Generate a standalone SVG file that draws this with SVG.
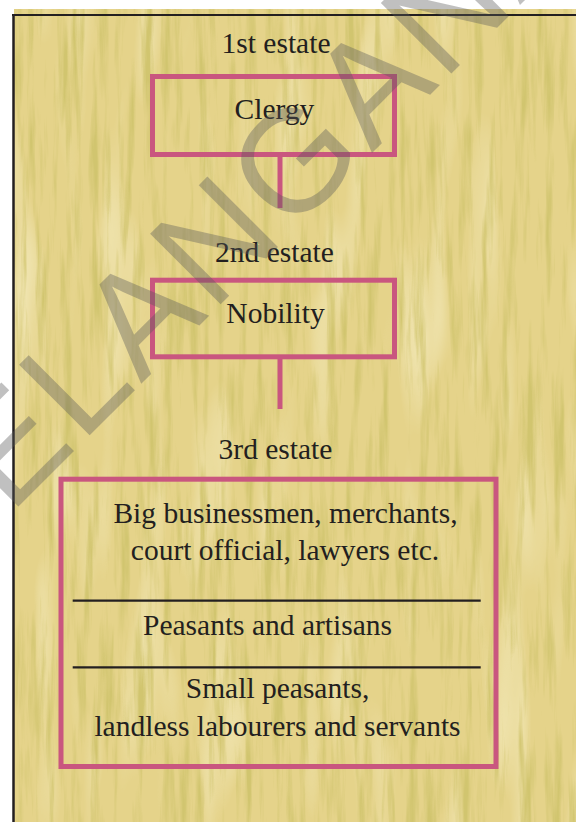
<svg xmlns="http://www.w3.org/2000/svg" width="576" height="822" viewBox="0 0 576 822">
  <defs>
    <filter id="paper" x="0" y="0" width="100%" height="100%" filterUnits="objectBoundingBox">
      <feTurbulence type="fractalNoise" baseFrequency="0.11 0.008" numOctaves="4" seed="7" result="n"/>
      <feColorMatrix in="n" type="matrix" values="0 0 0 0 0.64  0 0 0 0 0.56  0 0 0 0 0.16  3.2 0 0 0 -1.52"/>
    </filter>
    <filter id="paperLight" x="0" y="0" width="100%" height="100%" filterUnits="objectBoundingBox">
      <feTurbulence type="fractalNoise" baseFrequency="0.03 0.005" numOctaves="2" seed="3" result="n"/>
      <feColorMatrix in="n" type="matrix" values="0 0 0 0 0.95  0 0 0 0 0.90  0 0 0 0 0.64  1.6 0 0 0 -0.85"/>
    </filter>
  </defs>
  <style>
    .box { fill: none; stroke: #C9567F; stroke-width: 5; }
    .conn { stroke: #C9567F; stroke-width: 5; fill: none; }
    .rule { stroke: #231F20; stroke-width: 2.2; }
    .t { font-size: 29.5px; fill: #231F20; text-anchor: middle; }
    .wm { font-size: 145px; fill: #5a5a5a; fill-opacity: 0.38; letter-spacing: 4px; }
  </style>

  <rect x="0" y="0" width="576" height="822" fill="#FFFFFF"/>
  <g id="parchment">
    <rect x="14" y="9" width="562" height="813" fill="#E5D38A"/>
    <rect x="14" y="9" width="562" height="813" filter="url(#paperLight)"/>
    <rect x="14" y="9" width="562" height="813" filter="url(#paper)"/>
    <line x1="12" y1="15" x2="576" y2="15" stroke="#231F20" stroke-width="2"/>
    <line x1="13.5" y1="14" x2="13.5" y2="822" stroke="#231F20" stroke-width="2.5"/>
  </g>

  <g id="connectors">
    <line class="conn" x1="280" y1="157" x2="280" y2="208"/>
    <line class="conn" x1="280" y1="359" x2="280" y2="409"/>
  </g>

  <g id="estate1" font-family="'Liberation Serif', 'Times New Roman', Times, serif">
    <text class="t" x="276" y="53">1st estate</text>
    <rect class="box" x="152.5" y="76.5" width="242" height="78"/>
    <text class="t" x="274.5" y="119">Clergy</text>
  </g>

  <g id="estate2" font-family="'Liberation Serif', 'Times New Roman', Times, serif">
    <text class="t" x="274.5" y="262">2nd estate</text>
    <rect class="box" x="152.5" y="280.2" width="242" height="76.6"/>
    <text class="t" x="275.5" y="323">Nobility</text>
  </g>

  <g id="estate3" font-family="'Liberation Serif', 'Times New Roman', Times, serif">
    <text class="t" x="275.5" y="459">3rd estate</text>
    <rect class="box" x="61" y="479.2" width="435" height="287.3"/>
    <text class="t" x="285.5" y="523">Big businessmen, merchants,</text>
    <text class="t" x="285" y="560">court official, lawyers etc.</text>
    <line class="rule" x1="72.7" y1="600.7" x2="480.7" y2="600.7"/>
    <text class="t" x="267.5" y="635">Peasants and artisans</text>
    <line class="rule" x1="72.7" y1="667.3" x2="480.7" y2="667.3"/>
    <text class="t" x="277.5" y="698">Small peasants,</text>
    <text class="t" x="277.5" y="736">landless labourers and servants</text>
  </g>

  <g id="watermark" font-family="'Liberation Sans', Arial, sans-serif">
    <text class="wm" transform="translate(93,432) rotate(-45)" x="-210" y="0">TELANGANA</text>
  </g>
</svg>
